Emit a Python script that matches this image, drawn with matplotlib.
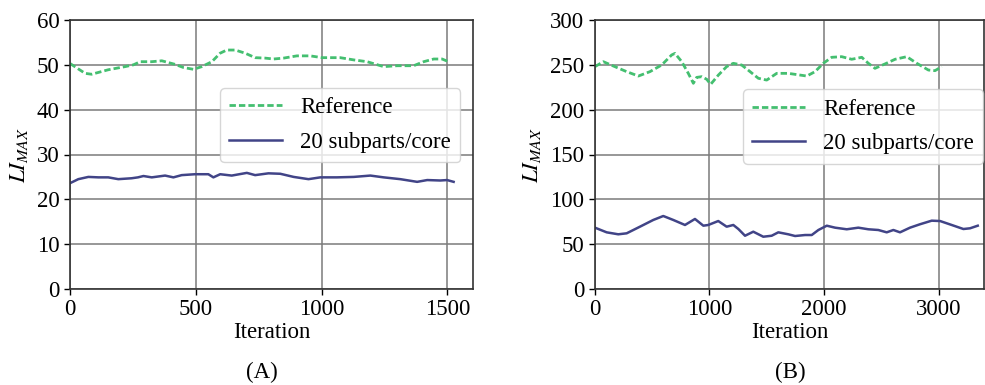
import matplotlib
matplotlib.use("Agg")
import matplotlib.pyplot as plt

plt.rcParams['font.family'] = ['Liberation Serif', 'DejaVu Serif']
plt.rcParams['mathtext.fontset'] = 'stix'

# Panel A data
a_ref_x = [0, 60, 86, 152, 219, 252, 279, 325, 365, 418, 451, 491, 524, 564, 597, 623, 657, 696,
           736, 776, 809, 849, 902, 955, 1002, 1074, 1128, 1181, 1247, 1300, 1366, 1406, 1446, 1479, 1505]
a_ref_y = [50.3, 48.1, 47.9, 48.9, 49.6, 50.0, 50.7, 50.7, 50.9, 50.1, 49.4, 49.0, 49.6, 50.7, 52.6, 53.3, 53.3, 52.6,
           51.6, 51.5, 51.3, 51.5, 52.0, 52.0, 51.6, 51.6, 51.1, 50.7, 49.6, 49.8, 49.8, 50.7, 51.3, 51.3, 50.7]
a_sub_x = [0, 33, 73, 113, 152, 192, 245, 270, 292, 325, 378, 411, 444, 497, 550, 570, 597, 643, 703,
           736, 789, 836, 889, 948, 995, 1061, 1128, 1194, 1247, 1313, 1380, 1420, 1472, 1499, 1525]
a_sub_y = [23.6, 24.5, 25.0, 24.9, 24.9, 24.5, 24.7, 24.9, 25.2, 24.9, 25.3, 24.9, 25.4, 25.6, 25.6, 24.9, 25.6, 25.3, 25.9,
           25.4, 25.8, 25.7, 25.0, 24.5, 24.9, 24.9, 25.0, 25.3, 24.9, 24.5, 23.9, 24.3, 24.2, 24.3, 23.9]

# Panel B data
b_ref_x = [4, 77, 164, 280, 382, 483, 585, 672, 701, 760, 817, 861, 890, 934, 977, 1012, 1079, 1151, 1209,
           1282, 1355, 1427, 1500, 1587, 1688, 1747, 1849, 1921, 1993, 2066, 2153, 2240, 2328, 2385, 2443,
           2530, 2618, 2720, 2807, 2908, 2966, 3024]
b_ref_y = [248, 253.5, 248.7, 242.4, 237.5, 242.4, 249.8, 261, 262.8, 253.5, 240.5, 229.4, 236, 236.8, 233.9, 228.3,
           238.6, 248, 251.7, 249.8, 242.4, 235, 233, 240.5, 240.5, 239.4, 237.5, 242.4, 251.7, 258.4, 259.1, 256.2,
           258.4, 251.7, 246.1, 251, 256.2, 259.1, 251.7, 244.2, 243.5, 248]
b_sub_x = [4, 106, 207, 280, 396, 512, 599, 686, 788, 875, 948, 991, 1078, 1151, 1209, 1253, 1311, 1383, 1470,
           1543, 1601, 1688, 1747, 1834, 1892, 1950, 2023, 2095, 2197, 2298, 2385, 2472, 2545, 2603, 2661,
           2748, 2835, 2937, 3010, 3111, 3213, 3271, 3338]
b_sub_y = [68.4, 63.2, 61, 62.1, 69.5, 77, 81.4, 77, 71.4, 78.1, 70.6, 71.4, 75.8, 69.5, 71.4, 66.9, 59.4, 63.9, 58.3,
           59.4, 63.2, 61, 59.1, 60.2, 60.2, 65.8, 70.6, 68.4, 66.6, 68.4, 66.6, 65.8, 63.2, 65.8, 63.2,
           68.4, 72.2, 76.2, 75.8, 71.4, 66.9, 67.7, 70.6]

labels = ["Reference", "20 subparts/core"]
a_xticks = [0, 500, 1000, 1500]
a_yticks = [0, 10, 20, 30, 40, 50, 60]
b_xticks = [0, 1000, 2000, 3000]
b_yticks = [0, 50, 100, 150, 200, 250, 300]

green = "#44bf70"
blue = "#414487"
fs = 16.5

fig = plt.figure(figsize=(9.85, 3.85), dpi=100)
axA = fig.add_axes([70/985, 96/385, 403/985, 269/385])
axB = fig.add_axes([594.5/985, 96/385, 389.8/985, 269/385])

panels = [
    (axA, a_ref_x, a_ref_y, a_sub_x, a_sub_y, (0, 1602), (0, 60), a_xticks, a_yticks, (0.968, 0.747)),
    (axB, b_ref_x, b_ref_y, b_sub_x, b_sub_y, (0, 3395), (0, 300), b_xticks, b_yticks, (0.997, 0.742)),
]
for ax, rx, ry, sx, sy, xl, yl, xt, yt, anchor in panels:
    ax.plot(rx, ry, color=green, lw=2.0, dashes=(2.3, 1.1), label=labels[0])
    ax.plot(sx, sy, color=blue, lw=1.8, label=labels[1])
    ax.set_xlim(*xl)
    ax.set_ylim(*yl)
    ax.set_xticks(xt)
    ax.set_yticks(yt)
    ax.grid(True, color="#7a7a7a", lw=1.1)
    ax.set_axisbelow(True)
    ax.tick_params(labelsize=fs, length=4, width=1, colors="black")
    for s in ax.spines.values():
        s.set_color("#333333")
        s.set_linewidth(1.2)
    ax.set_xlabel("Iteration", fontsize=fs, labelpad=1)
    ax.set_ylabel(r"$LI_{MAX}$", fontsize=fs, labelpad=5)
    ax.legend(loc="upper right", bbox_to_anchor=anchor, borderaxespad=0, fontsize=fs,
              handlelength=2.3, labelspacing=0.6, framealpha=0.8, edgecolor="#cccccc", fancybox=True)

fig.text(262/985, 1 - 372/385, "(A)", fontsize=fs, ha="center", va="center")
fig.text(790/985, 1 - 372/385, "(B)", fontsize=fs, ha="center", va="center")

fig.savefig("out.png", dpi=100)
